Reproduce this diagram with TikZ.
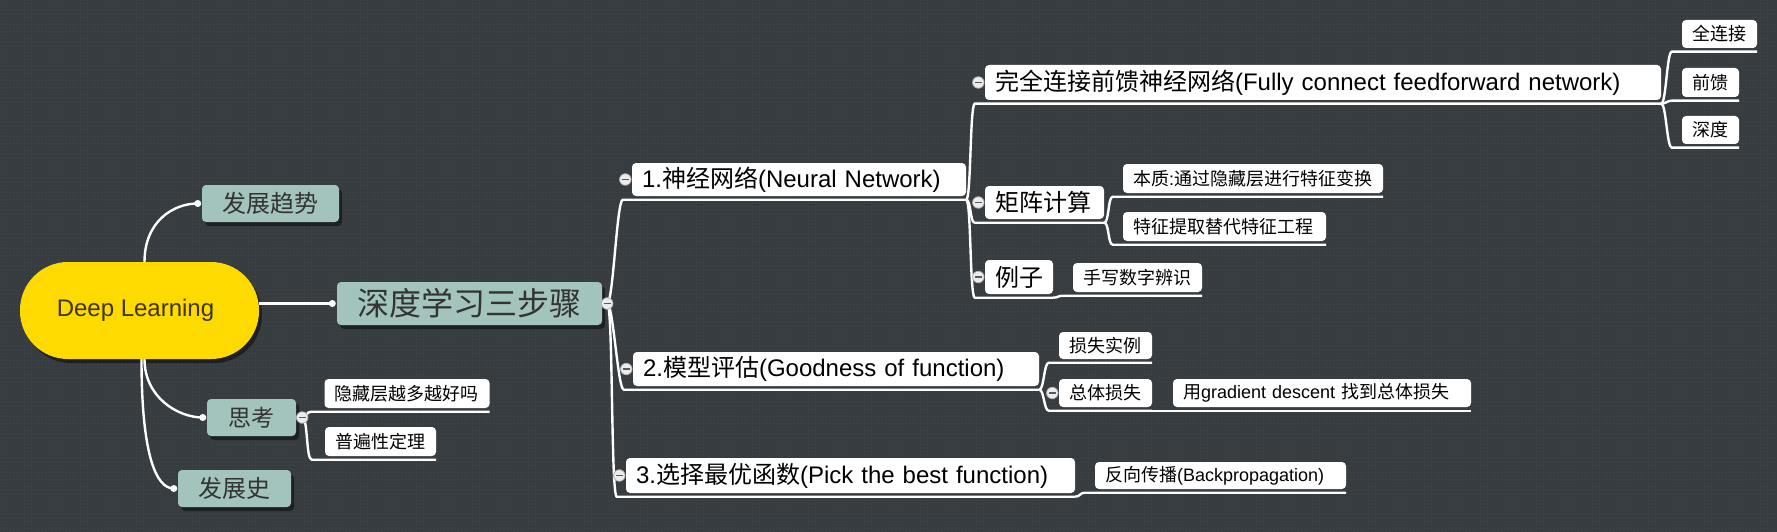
\documentclass[tikz,border=0pt]{standalone}
\usepackage{fontspec}
\setmainfont{Liberation Sans}
\newfontfamily\cjk{Noto Sans CJK SC}
\usetikzlibrary{shadows,patterns.meta}
\definecolor{bgdark}{RGB}{54,60,64}
\definecolor{bgdot}{RGB}{66,72,76}
\definecolor{tealbox}{RGB}{162,196,188}
\definecolor{rootgold}{RGB}{254,218,0}
\definecolor{rootink}{RGB}{62,54,12}
\definecolor{ink}{RGB}{51,51,51}
\newcommand{\setsz}[1]{\fontsize{#1}{#1}\selectfont}

\begin{document}
\begin{tikzpicture}[x=1pt, y=-1pt,
    link/.style={white, line width=2.4pt},
    topic/.style={fill=tealbox, text=ink, rounded corners=4pt, inner sep=0pt, minimum height=37pt,
      drop shadow={shadow xshift=3pt, shadow yshift=-4pt, opacity=0.45, fill=black}},
    sub/.style={fill=white, text=black, rounded corners=4pt, inner xsep=10pt, inner ysep=0pt, align=left},
    bigsub/.style={sub, minimum height=34pt, font=\setsz{24}},
    smallsub/.style={sub, minimum height=28pt, font=\setsz{18}},
    fold/.style={circle, fill=gray!15, draw=gray!60, line width=0.8pt, minimum size=11.5pt, inner sep=0pt,
      path picture={\draw [gray!70!black, line width=1.4pt] ([xshift=-3.5pt]path picture bounding box.center) -- ([xshift=3.5pt]path picture bounding box.center);}},
    dot/.style={circle, fill=white, minimum size=7pt, inner sep=0pt}]
      \useasboundingbox (0,0) rectangle (1777,532);
      \fill [bgdark] (0,0) rectangle (1777,532);
      \fill [pattern={Dots[radius=0.6pt, distance=3.5pt]}, pattern color=bgdot] (0,0) rectangle (1777,532);

      \node [fill=rootgold, text=rootink, rounded corners=48pt, minimum width=239pt, minimum height=97pt, font=\setsz{24},
        drop shadow={shadow xshift=3pt, shadow yshift=-4pt, opacity=0.45, fill=black}] (root) at (139.5,310.5) {Deep Learning\hspace*{8pt}};

      \node [topic, minimum width=137pt, font=\setsz{24}] (trend) at (270.5,203.5) {\cjk 发展趋势};
      \node [topic, minimum width=265pt, minimum height=43pt, font=\setsz{32}] (sanbu) at (469.5,303.5) {\cjk 深度学习三步骤};
      \node [topic, minimum width=89pt, font=\setsz{23}] (think) at (251.5,417.5) {\cjk 思考};
      \node [topic, minimum width=113pt, font=\setsz{24}] (hist) at (234.5,488.5) {\cjk 发展史};

      \node [bigsub, text width=314pt, minimum height=33pt] (nn) at (799,179.5) {1.{\cjk 神经网络}(Neural Network)};
      \node [bigsub, text width=386pt] (eval) at (836,369) {2.{\cjk 模型评估}(Goodness of function)};
      \node [bigsub, text width=429pt, minimum height=35pt] (best) at (850.5,475.5) {3.{\cjk 选择最优函数}(Pick the best function)};
      \node [bigsub, text width=656pt, minimum height=35pt] (full) at (1323,82.5) {{\cjk 完全连接前馈神经网络}(Fully connect feedforward network)};
      \node [bigsub, text width=99pt, minimum height=33pt] (matrix) at (1044.5,202.5) {\cjk 矩阵计算};
      \node [bigsub, text width=48pt] (example) at (1019,277) {\cjk 例子};

      \node [smallsub, text width=55pt] (fc) at (1719.5,34) {\cjk 全连接};
      \node [smallsub, text width=37pt, minimum height=29pt] (ff) at (1710.5,82.5) {\cjk 前馈};
      \node [smallsub, text width=37pt] (deep) at (1710.5,130) {\cjk 深度};
      \node [smallsub, text width=240pt, minimum height=29pt] (ess) at (1253,178.5) {{\cjk 本质}:{\cjk 通过隐藏层进行特征变换}};
      \node [smallsub, text width=183pt, minimum height=29pt] (feat) at (1224.5,226.5) {\cjk 特征提取替代特征工程};
      \node [smallsub, text width=109pt, minimum height=29pt] (hand) at (1137.5,277.5) {\cjk 手写数字辨识};
      \node [smallsub, text width=73pt, minimum height=27pt] (loss) at (1105.5,345.5) {\cjk 损失实例};
      \node [smallsub, text width=73pt] (total) at (1105.5,393) {\cjk 总体损失};
      \node [smallsub, text width=278pt] (gd) at (1322,393) {{\cjk 用}gradient descent {\cjk 找到总体损失}};
      \node [smallsub, text width=231pt, minimum height=27pt] (bp) at (1220.5,475.5) {{\cjk 反向传播}(Backpropagation)};
      \node [smallsub, text width=145pt, minimum height=29pt] (hid) at (407,393.5) {\cjk 隐藏层越多越好吗};
      \node [smallsub, text width=91pt, minimum height=29pt] (univ) at (380.5,441.5) {\cjk 普遍性定理};

      \coordinate (trend-d) at ([xshift=-4pt]trend.west);
      \coordinate (sanbu-d) at ([xshift=-4.5pt]sanbu.west);
      \coordinate (think-d) at ([xshift=-4pt]think.west);
      \coordinate (hist-d) at ([xshift=-4pt]hist.west);
      \coordinate (sanbu-k) at ([xshift=5pt]sanbu.east);
      \coordinate (think-k) at ([xshift=6pt]think.east);

      \draw [link] (root.east |- sanbu-d) -- (sanbu-d);
      \draw [link] ([xshift=5pt]root.north) .. controls +(0,-40) and +(-25,0) .. (trend-d);
      \draw [link] ([xshift=5pt]root.south) .. controls +(0,38) and +(-25,0) .. (think-d);
      \draw [link] ([xshift=2pt]root.south) .. controls +(0,95) and +(-18,0) .. (hist-d);

      \foreach \dst in {nn,eval,best}
        \draw [link] (sanbu-k) .. controls +(6,0) and +(-6,0) .. ([xshift=-9pt,yshift=-3.5pt]\dst.south west) -- ([yshift=-3.5pt]\dst.south east);
      \foreach \dst in {hid,univ}
        \draw [link] (think-k) .. controls +(6,0) and +(-6,0) .. ([xshift=-13pt,yshift=-3.5pt]\dst.south west) -- ([yshift=-3.5pt]\dst.south east);
      \foreach \src/\dst in {nn/full, nn/matrix, nn/example, full/fc, full/ff, full/deep, matrix/ess, matrix/feat,
          example/hand, eval/loss, eval/total, total/gd, best/bp}
        \draw [link] ([yshift=-3.5pt]\src.south east) .. controls +(5,0) and +(-5,0) .. ([xshift=-10pt,yshift=-3.5pt]\dst.south west) -- ([yshift=-3.5pt]\dst.south east);

      \foreach \n in {trend,sanbu,think,hist}
        \node [dot] (\n-dot) at (\n-d) {};
      \node [fold] (sanbu-f) at (sanbu-k) {};
      \node [fold] (think-f) at (think-k) {};
      \foreach \n in {nn,eval,best,full,matrix,example,total}
        \node [fold] (\n-f) at ([xshift=-6.5pt]\n.west) {};
    \end{tikzpicture}
\end{document}
